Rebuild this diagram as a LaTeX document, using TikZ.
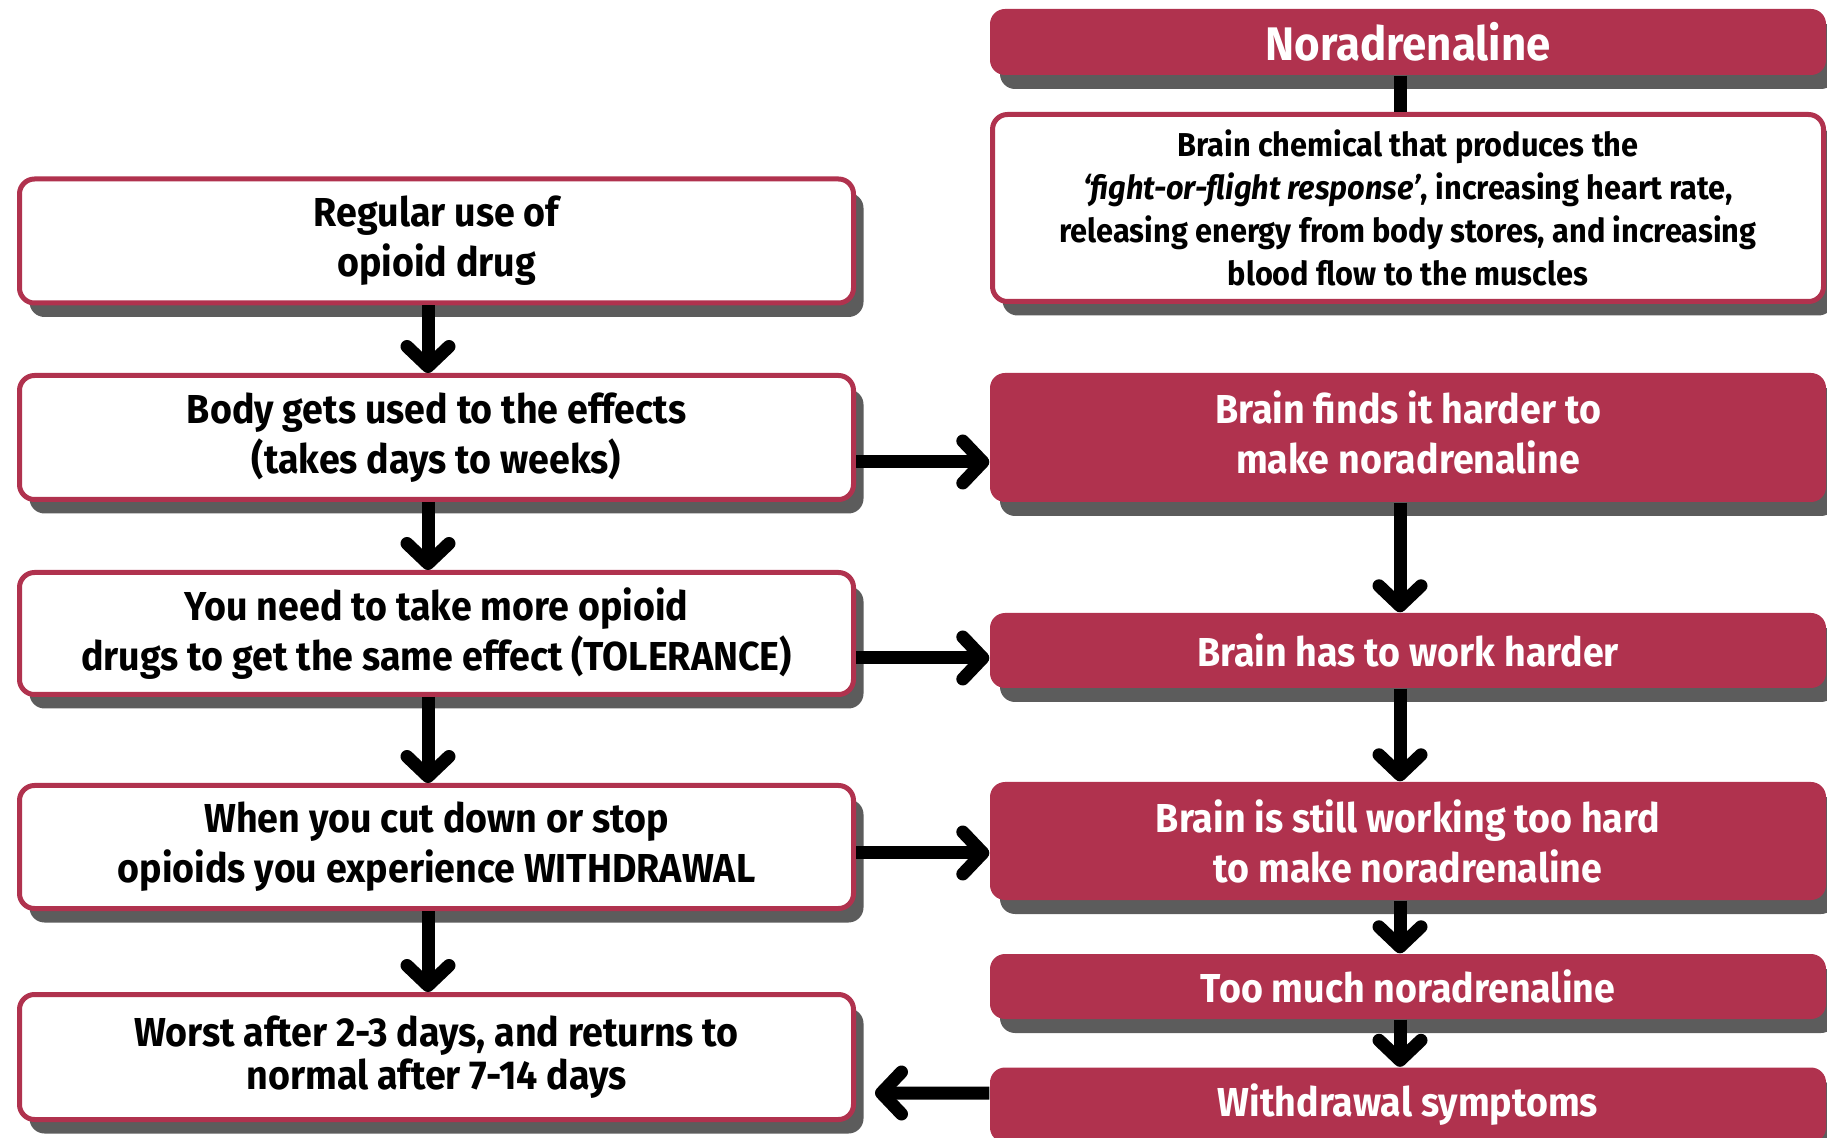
\documentclass[tikz,border=0pt]{standalone}
\usepackage{fontspec}
\setmainfont{Fira Sans}[FakeStretch=0.93]
\usepackage{tikz}
\usetikzlibrary{arrows.meta,positioning,shadows}
\definecolor{brainred}{HTML}{B0324E}
\definecolor{shadowgray}{HTML}{5C5C5C}

\begin{document}
\begin{tikzpicture}[
  every node/.style={font=\fontsize{11.5}{14.2}\selectfont\bfseries, align=center, inner sep=0pt},
  boxshadow/.style={drop shadow={shadow xshift=0.1cm, shadow yshift=-0.14cm, fill=shadowgray, opacity=1}},
  stepbox/.style={draw=brainred, line width=0.05cm, fill=white, rounded corners=0.15cm,
                  minimum width=8.34cm, boxshadow},
  brainbox/.style={fill=brainred, text=white, rounded corners=0.15cm,
                   minimum width=8.36cm, boxshadow},
  arr/.style={->, line width=0.13cm},
  >={Straight Barb[length=0.2cm, width=0.42cm, round]}
]
\useasboundingbox (0,0) rectangle (18.27,-11.38);
\clip (0,0) rectangle (18.27,-11.38);

% left column
\node[stepbox, minimum height=1.24cm] (regular)    at (4.365,-2.41)  {Regular use of\\opioid drug};
\node[stepbox, minimum height=1.24cm] (usedto)     at (4.365,-4.375) {Body gets used to the effects\\(takes days to weeks)};
\node[stepbox, minimum height=1.22cm] (tolerance)  at (4.365,-6.335) {You need to take more opioid\\drugs to get the same effect (TOLERANCE)};
\node[stepbox, minimum height=1.23cm] (withdrawal) at (4.365,-8.47)  {When you cut down or stop\\opioids you experience WITHDRAWAL};
\node[stepbox, minimum height=1.25cm,
      font=\fontsize{11.5}{12.3}\selectfont\bfseries] (worst) at (4.365,-10.57)
  {Worst after 2-3 days, and returns to\\normal after 7-14 days};

% right column
\node[brainbox, minimum height=0.66cm, font=\fontsize{13.4}{15}\selectfont\bfseries] (noradr) at (14.08,-0.42) {Noradrenaline};
\node[stepbox, minimum width=8.31cm, minimum height=1.87cm,
      font=\fontsize{9.4}{12.3}\selectfont\bfseries] (chemical) at (14.08,-2.08)
  {Brain chemical that produces the\\\textit{‘fight-or-flight response’}, increasing heart rate,\\releasing energy from body stores, and increasing\\blood flow to the muscles};
\node[brainbox, minimum height=1.29cm, text depth=0.1cm] (harder) at (14.08,-4.375) {Brain finds it harder to\\make noradrenaline};
\node[brainbox, minimum height=0.75cm] (workharder)   at (14.08,-6.505) {Brain has to work harder};
\node[brainbox, minimum height=1.18cm] (stillworking) at (14.08,-8.41)  {Brain is still working too hard\\to make noradrenaline};
\node[brainbox, minimum height=0.65cm] (toomuch)      at (14.08,-9.865) {Too much noradrenaline};
\node[brainbox, minimum height=0.75cm] (symptoms)     at (14.08,-11.05) {Withdrawal symptoms};

% down the left
\draw[arr] ([xshift=-0.085cm]regular.south)    -- ([xshift=-0.085cm]usedto.north);
\draw[arr] ([xshift=-0.085cm]usedto.south)     -- ([xshift=-0.085cm]tolerance.north);
\draw[arr] ([xshift=-0.085cm]tolerance.south)  -- ([xshift=-0.085cm]withdrawal.north);
\draw[arr] ([xshift=-0.085cm]withdrawal.south) -- ([xshift=-0.085cm]worst.north);

% down the right
\draw[line width=0.13cm] ([xshift=-0.08cm]noradr.south) -- ([xshift=-0.08cm]chemical.north);
\draw[arr] ([xshift=-0.08cm]harder.south)       -- ([xshift=-0.08cm]workharder.north);
\draw[arr] ([xshift=-0.08cm]workharder.south)   -- ([xshift=-0.08cm]stillworking.north);
\draw[arr] ([xshift=-0.08cm]stillworking.south) -- ([xshift=-0.08cm]toomuch.north);
\draw[arr] ([xshift=-0.08cm]toomuch.south)      -- ([xshift=-0.08cm]symptoms.north);

% across
\draw[arr] ([yshift=-0.245cm]usedto.east)     -- ([yshift=-0.245cm]harder.west);
\draw[arr] ([yshift=-0.245cm]tolerance.east)  -- ([yshift=-0.075cm]workharder.west);
\draw[arr] ([yshift=-0.06cm]withdrawal.east)  -- ([yshift=-0.12cm]stillworking.west);
\draw[arr] ([yshift=0.12cm]symptoms.west)     -- ([xshift=0.19cm, yshift=-0.36cm]worst.east);
\end{tikzpicture}
\end{document}
